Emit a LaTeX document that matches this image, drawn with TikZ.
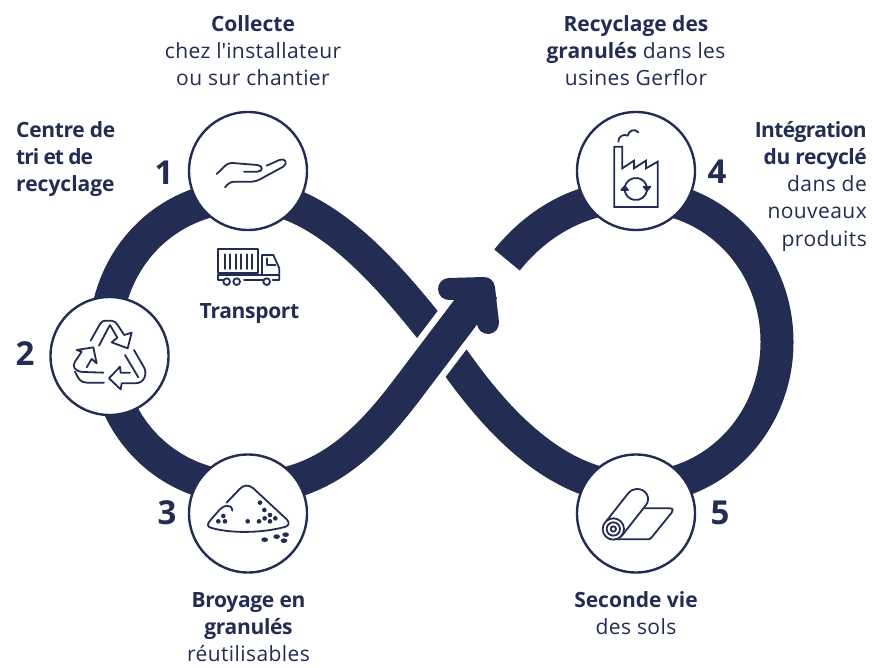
\documentclass[tikz,border=0pt]{standalone}
\usepackage{fontspec}
\setmainfont{Open Sans}[LetterSpace=2.0]
\definecolor{navy}{HTML}{232C52}
\newcommand{\bt}[2][0.0]{{\bfseries\addfontfeature{LetterSpace=#1}#2}}
\tikzset{
  band/.style={draw=navy,line width=33pt,line cap=butt},
  disc/.style={circle,draw=navy,fill=white,line width=2.4pt,minimum size=118pt,inner sep=0pt},
  ico/.style={draw=navy,line width=1.8pt,line cap=round,line join=round},
  dot/.style={fill=navy},
  lab/.style={text=navy,font=\fontsize{21}{27.2}\selectfont,inner sep=0pt},
  num/.style={text=navy,font=\fontsize{33}{33}\selectfont\bfseries,inner sep=0pt},
  iconzoom/.style={shift={(#1)},x=0.3333pt,y=-0.3333pt}
}
\begin{document}
\begin{tikzpicture}[x=1pt,y=-1pt]
\useasboundingbox (0,0) rectangle (874,668);
\fill[white] (0,0) rectangle (874,668);
\coordinate (lx) at (443,344);
\coordinate (la) at (427,324);
\coordinate (lt) at (248,196);
\coordinate (ll) at (105,342);
\coordinate (lb) at (248,488);
\coordinate (as) at (406,391);
\coordinate (tip) at (484,288);
\coordinate (ra) at (507,260);
\coordinate (rt) at (636,196);
\coordinate (rr) at (777,342);
\coordinate (rb) at (636,488);
\coordinate (re) at (456,363);
\coordinate (rx) at (441,343);
\coordinate (hl) at (449,289);
\coordinate (hr) at (488,323);
% the two branches that pass under the arrow
\draw[band] (lx) -- (la) .. controls (385,272) and (320,196) .. (lt)
  .. controls (165,196) and (105,260) .. (ll)
  .. controls (105,424) and (165,488) .. (lb);
\draw[band] (ra) .. controls (540,219) and (585,196) .. (rt)
  .. controls (716,196) and (777,262) .. (rr)
  .. controls (777,422) and (716,488) .. (rb)
  .. controls (560,488) and (500,425) .. (re) -- (rx);
% gap on each side of the arrow shaft
\draw[white,line width=46pt,line cap=butt] (as) -- (tip);
\draw[band] (lb) .. controls (320,488) and (365,445) .. (as) -- (tip);
\draw[navy,line width=22pt,line cap=round,line join=round] (hl) -- (tip) -- (hr);
\node[disc] (c1) at (248,171) {};
\node[disc] (c2) at (109.5,356) {};
\node[disc] (c3) at (248,513.5) {};
\node[disc] (c4) at (636,171) {};
\node[disc] (c5) at (636,513.5) {};
\node[num] (n1) at (164,173) {1};
\node[num] (n2) at (25,354) {2};
\node[num] (n3) at (167,513) {3};
\node[num] (n4) at (717,172) {4};
\node[num] (n5) at (720,513) {5};
\node[lab,align=center,anchor=north] (t1) at (253,15) {\bt{Collecte}\\chez l\textquotesingle installateur\\ou sur chantier};
\node[lab,align=left,anchor=north west] (t2) at (16,121) {\bt[-1.5]{Centre de}\\\bt[-5.0]{tri et de}\\\bt{recyclage}};
\node[lab,align=center,anchor=north] (t3) at (636,15) {\bt{Recyclage des}\\\bt{granulés} dans les\\usines Gerflor};
\node[lab,align=right,anchor=north east] (t4) at (867,121) {\bt[-3.0]{Intégration}\\\bt[-2.0]{du recyclé}\\dans de\\nouveaux\\produits};
\node[lab,align=center,anchor=north] (t5) at (248.5,592) {\bt[-1.5]{Broyage en}\\\bt[-1.5]{granulés}\\réutilisables};
\node[lab,align=center,anchor=north] (t6) at (636,591) {\bt{Seconde vie}\\des sols};
\node[lab] (t7) at (249.5,314) {\bt[-1.5]{Transport}};
\begin{scope}[iconzoom={170,100}]
\draw[ico] (140,222) -- (165,198) .. controls (175,188) and (185,188) .. (200,190) -- (262,195) .. controls (280,197) and (280,215) .. (262,215) -- (222,215);
\draw[ico] (165,262) .. controls (175,250) and (182,245) .. (195,245) -- (245,245) .. controls (255,245) and (262,242) .. (270,238) -- (340,200) .. controls (355,190) and (345,172) .. (328,180) -- (290,197);
\draw[ico] (145,448) rectangle (265,520);
\foreach \s in {165,181,197,213,230,247} \draw[ico] (\s,463) -- (\s,507);
\draw[ico] (277,465) -- (310,465) -- (328,505) -- (328,540) -- (308,540);
\draw[ico] (290,475) -- (290,495) -- (316,495);
\draw[ico] (277,465) -- (277,526) -- (145,526) -- (145,540) -- (158,540);
\draw[ico] (277,526) -- (328,526);
\draw[ico] (222,540) -- (278,540);
\draw[ico] (170,545) circle[radius=10];
\draw[ico] (200,545) circle[radius=10];
\draw[ico] (290,545) circle[radius=10];
\end{scope}
\begin{scope}[iconzoom={30,290}]
\draw[ico] (182,152) -- (210,102) .. controls (215,94) and (220,92) .. (228,92) -- (245,92) .. controls (255,92) and (260,100) .. (265,108) -- (283,135) -- (305,128) -- (293,175) -- (245,157) -- (262,143) -- (240,105);
\draw[ico] (207,167) -- (238,108);
\draw[ico] (312,180) -- (342,232) .. controls (352,250) and (345,280) .. (315,280) -- (275,280) -- (272,298) -- (237,265) -- (270,230) -- (272,248) -- (300,248);
\draw[ico] (285,195) -- (325,262);
\draw[ico] (220,248) -- (160,246) .. controls (135,245) and (125,230) .. (135,215) -- (155,185) -- (140,180) -- (190,172) -- (200,220) -- (185,207) -- (170,232);
\draw[ico] (222,278) -- (170,278) .. controls (150,278) and (145,265) .. (135,245);
\end{scope}
\begin{scope}[iconzoom={180,450}]
\draw[ico] (140,158) -- (178,118) .. controls (190,105) and (205,102) .. (220,115) -- (320,208) .. controls (332,220) and (325,230) .. (310,232) .. controls (240,250) and (150,250) .. (95,234) .. controls (80,230) and (82,222) .. (90,212) -- (118,180) .. controls (130,165) and (155,160) .. (157,182);
\foreach \px/\py in {130/198,115/214,135/214,203/214,237/214,254/205,270/195,286/205,270/214,253/180,240/158}
  \fill[dot] (\px,\py) circle[radius=7];
\foreach \px/\py in {254/269,290/260,317/254,312/272}
  \fill[dot] (\px,\py) ellipse[x radius=10,y radius=7];
\end{scope}
\begin{scope}[iconzoom={560,100}]
\draw[ico,line cap=butt,line join=miter] (163,140) -- (187,140) -- (187,205) -- (222,182) -- (222,205) -- (258,182) -- (258,205) -- (293,185) -- (293,321) -- (163,321) -- cycle;
\draw[ico] (175,125) .. controls (175,110) and (190,100) .. (203,107) .. controls (205,92) and (225,84) .. (235,97);
\draw[ico] (194,262) arc[start angle=190,end angle=350,radius=34];
\draw[ico] (261,272) arc[start angle=10,end angle=170,radius=34];
\draw[ico,fill=navy] (184,270) -- (204,270) -- (194,259) -- cycle;
\draw[ico,fill=navy] (251,260) -- (271,260) -- (261,272) -- cycle;
\end{scope}
\begin{scope}[iconzoom={565,450}]
\draw[ico] (145,237) circle[radius=32];
\draw[ico] (145,237) circle[radius=20];
\draw[ico] (145,237) circle[radius=8];
\draw[ico] (125,212) -- (188,132) .. controls (202,112) and (232,112) .. (245,132) .. controls (252,145) and (250,155) .. (243,165) -- (170,258);
\draw[ico] (240,175) -- (315,175) .. controls (325,175) and (325,182) .. (320,188) -- (260,262) .. controls (256,268) and (252,268) .. (245,268) -- (150,268);
\end{scope}
\end{tikzpicture}
\end{document}
